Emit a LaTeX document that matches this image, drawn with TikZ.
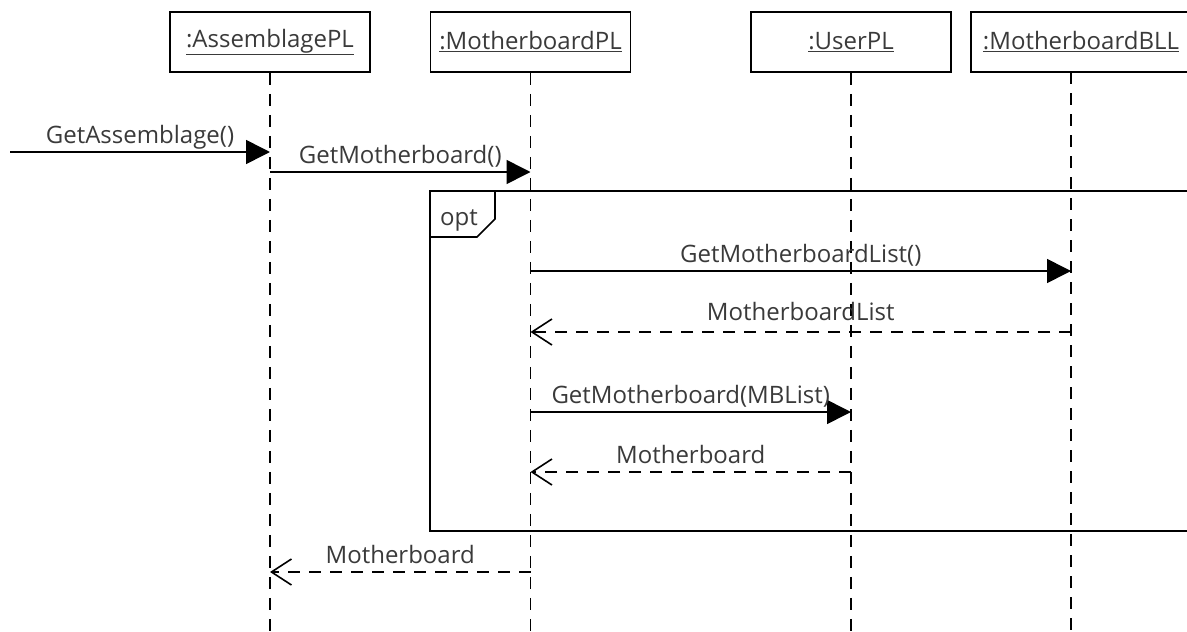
\documentclass[tikz,border=0pt]{standalone}
\usepackage{fontspec}
\setmainfont{Open Sans}
\usepackage{xcolor}
\usepackage{tikz}
\usetikzlibrary{arrows.meta}

\definecolor{ink}{HTML}{3A3A3A}

\begin{document}
\begin{tikzpicture}[
    x=1pt, y=-1pt,
    font=\fontsize{24}{28}\selectfont\color{ink},
    part/.style={rectangle, draw, line width=1.6pt, minimum width=200pt, minimum height=60pt, inner sep=0pt},
    lifeline/.style={line width=1.6pt, dash pattern=on 12pt off 9pt},
    call/.style={line width=1.6pt, -{Triangle[length=24pt, width=24pt]}},
    reply/.style={line width=1.6pt, dash pattern=on 12pt off 9pt, -{Straight Barb[length=20pt, width=26pt, line width=1.6pt]}},
    lbl/.style={midway, anchor=base, yshift=9pt, inner sep=0pt}
]
    \useasboundingbox (0,0) rectangle (1187,632);
    \clip (0,0) rectangle (1187,632);

    % participants
    \node[part] (asm) at (270,42) {\underline{:AssemblagePL}};
    \node[part] (mbpl) at (530.5,42) {\underline{:MotherboardPL}};
    \node[part] (user) at (851,42) {\underline{:UserPL}};
    \node[part, minimum width=220pt] (mbbll) at (1081,42) {\underline{:MotherboardBLL}};
    \coordinate (bllx) at (1071,72);

    % lifelines
    \coordinate (bottom) at (0,632);
    \draw[lifeline] (asm.south) -- (asm.south |- bottom);
    \draw[lifeline] (mbpl.south) -- (mbpl.south |- bottom);
    \draw[lifeline] (user.south) -- (user.south |- bottom);
    \draw[lifeline] (bllx) -- (bllx |- bottom);

    % message rows
    \coordinate (r1) at (10,152);
    \coordinate (r2) at (0,172);
    \coordinate (r3) at (0,271);
    \coordinate (r4) at (0,332);
    \coordinate (r5) at (0,412);
    \coordinate (r6) at (0,472);
    \coordinate (r7) at (0,572);

    % opt fragment
    \draw[line width=1.6pt] (1200,191) -- (430,191) -- (430,531) -- (1200,531);
    \draw[line width=1.6pt] (430,237) -- (477,237) -- (495,219) -- (495,191);
    \node[anchor=base, inner sep=0pt] (opt) at (459,225) {opt};

    \draw[call] (r1) -- (asm |- r1) node[lbl] {GetAssemblage()};
    \draw[call] (asm |- r2) -- (mbpl |- r2) node[lbl] {GetMotherboard()};
    \draw[call] (mbpl |- r3) -- (bllx |- r3) node[lbl] {GetMotherboardList()};
    \draw[reply] (bllx |- r4) -- (mbpl |- r4) node[lbl, yshift=3pt] {MotherboardList};
    \draw[call] (mbpl |- r5) -- (user |- r5) node[lbl] {GetMotherboard(MBList)};
    \draw[reply] (user |- r6) -- (mbpl |- r6) node[lbl] {Motherboard};
    \draw[reply] (mbpl |- r7) -- (asm |- r7) node[lbl] {Motherboard};
\end{tikzpicture}
\end{document}
